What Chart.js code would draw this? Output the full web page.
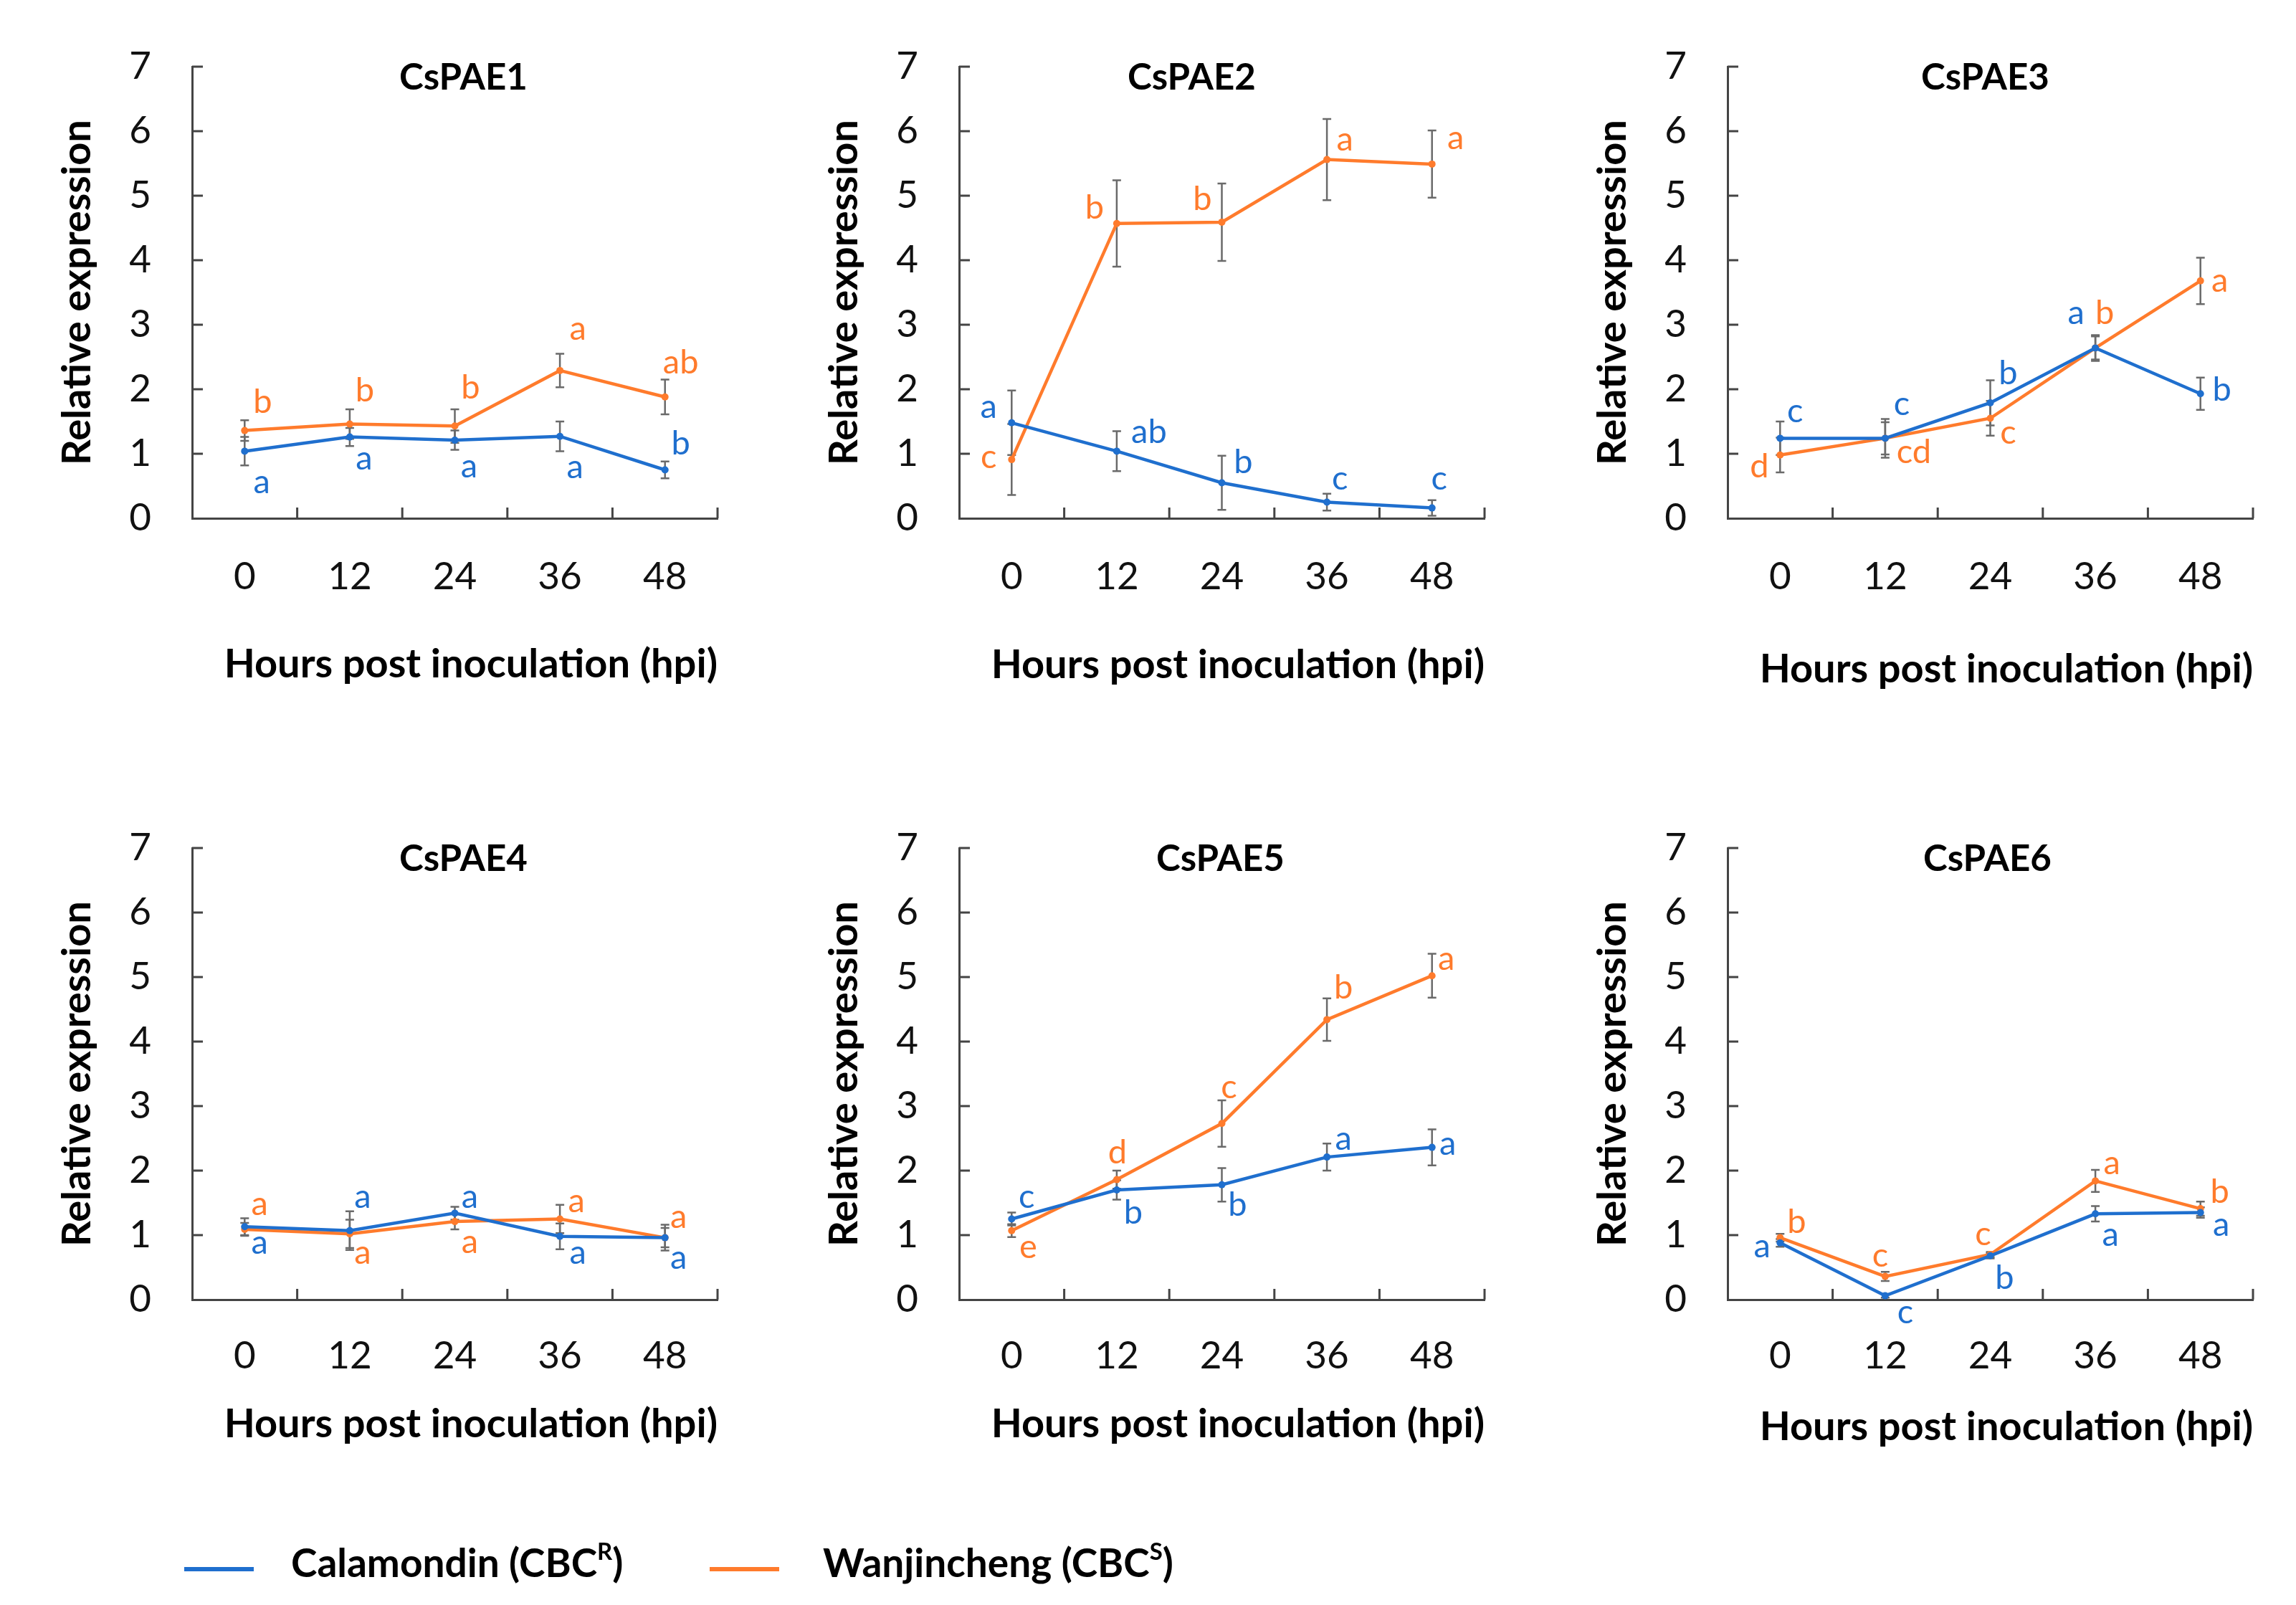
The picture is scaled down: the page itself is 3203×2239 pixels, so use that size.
<!DOCTYPE html>
<html>
<head>
<meta charset="utf-8">
<script src="https://cdn.jsdelivr.net/npm/chart.js@4.4.1/dist/chart.umd.min.js"></script>
<style>
  html, body { margin: 0; padding: 0; background: #fff; }
  #page { position: relative; width: 3203px; height: 2239px; overflow: hidden; }
  .panel { position: absolute; width: 1060px; height: 1060px; }
  .legend { position: absolute; top: 2146px; height: 66px; font-family: Lato, sans-serif; font-weight: bold; font-size: 55px; color: #000; line-height: 66px; white-space: nowrap; }
  .legend sup { font-size: 33px; vertical-align: 24px; line-height: 0; }
  .swatch { position: absolute; top: 2186px; height: 6px; width: 97px; }
</style>
</head>
<body>
<div id="page">
  <div class="panel" id="p0"><canvas id="c0"></canvas></div>
  <div class="panel" id="p1"><canvas id="c1"></canvas></div>
  <div class="panel" id="p2"><canvas id="c2"></canvas></div>
  <div class="panel" id="p3"><canvas id="c3"></canvas></div>
  <div class="panel" id="p4"><canvas id="c4"></canvas></div>
  <div class="panel" id="p5"><canvas id="c5"></canvas></div>

  <div class="swatch" style="left:257px; background:#1f6fce;"></div>
  <div class="legend" style="left:406px;">Calamondin (CBC<sup>R</sup>)</div>
  <div class="swatch" style="left:990px; background:#ff7b2c;"></div>
  <div class="legend" style="left:1148px;">Wanjincheng (CBC<sup>S</sup>)</div>
</div>

<script>
// ---- data ----
const hours = ['0', '12', '24', '36', '48'];
const genes = ['CsPAE1', 'CsPAE2', 'CsPAE3', 'CsPAE4', 'CsPAE5', 'CsPAE6'];
const seriesNames = ['Calamondin (CBCR)', 'Wanjincheng (CBCS)'];
const yTitle = 'Relative expression';
const xTitle = 'Hours post inoculation (hpi)';

const calamondinMean = [
    [1.04, 1.26, 1.21, 1.27, 0.75],
    [1.48, 1.04, 0.55, 0.25, 0.16],
    [1.24, 1.24, 1.79, 2.64, 1.93],
    [1.13, 1.07, 1.34, 0.98, 0.96],
    [1.25, 1.70, 1.78, 2.21, 2.36],
    [0.88, 0.06, 0.68, 1.33, 1.35]
];
const calamondinErr = [
    [0.22, 0.14, 0.15, 0.23, 0.13],
    [0.50, 0.31, 0.42, 0.13, 0.12],
    [0.26, 0.30, 0.35, 0.20, 0.25],
    [0.13, 0.30, 0.10, 0.20, 0.20],
    [0.10, 0.15, 0.26, 0.21, 0.28],
    [0.06, 0.03, 0.04, 0.12, 0.08]
];
const wanjinchengMean = [
    [1.36, 1.46, 1.43, 2.29, 1.88],
    [0.91, 4.57, 4.59, 5.56, 5.49],
    [0.98, 1.24, 1.55, 2.64, 3.68],
    [1.09, 1.02, 1.21, 1.25, 0.96],
    [1.07, 1.86, 2.73, 4.34, 5.02],
    [0.96, 0.36, 0.70, 1.84, 1.41]
];
const wanjinchengErr = [
    [0.16, 0.23, 0.26, 0.26, 0.27],
    [0.55, 0.67, 0.60, 0.63, 0.52],
    [0.27, 0.25, 0.27, 0.18, 0.36],
    [0.10, 0.22, 0.12, 0.22, 0.15],
    [0.10, 0.14, 0.36, 0.33, 0.34],
    [0.06, 0.07, 0.04, 0.17, 0.11]
];
const calamondinLetters = [
    ['a', 'a', 'a', 'a', 'b'],
    ['a', 'ab', 'b', 'c', 'c'],
    ['c', 'c', 'b', 'a', 'b'],
    ['a', 'a', 'a', 'a', 'a'],
    ['c', 'b', 'b', 'a', 'a'],
    ['a', 'c', 'b', 'a', 'a']
];
const wanjinchengLetters = [
    ['b', 'b', 'b', 'a', 'ab'],
    ['c', 'b', 'b', 'a', 'a'],
    ['d', 'cd', 'c', 'b', 'a'],
    ['a', 'a', 'a', 'a', 'a'],
    ['e', 'd', 'c', 'b', 'a'],
    ['b', 'c', 'c', 'a', 'b']
];

// ---- layout (pixels) ----
const panelLeft = [0, 1070, 2142, 0, 1070, 2142];
const panelTop = [0, 0, 0, 1090, 1090, 1090];
const xTitleGap = [204, 205, 211, 174, 174, 178]; // axis line -> centre of x title
const xTickPad = [42, 42, 42, 39, 39, 39];
const titleShift = [12, -42, -7, 12, -2, -4];      // panel title offset from plot centre
// letter offsets from the point, [dx, dy]
const calamondinLetterPos = [
    [[24, 43], [20, 30], [20, 37], [21, 43], [22, -37]],
    [[-32, -22], [45, -27], [30, -29], [18, -33], [10, -41]],
    [[21, -38], [23, -48], [25, -41], [-27, -49], [30, -5]],
    [[21, 23], [18, -47], [21, -23], [25, 23], [19, 28]],
    [[21, -31], [23, 32], [22, 28], [23, -25], [22, -5]],
    [[-25, 5], [28, 23], [20, 31], [21, 30], [29, 17]]
];
const wanjinchengLetterPos = [
    [[25, -40], [21, -47], [22, -53], [25, -58], [22, -48]],
    [[-32, -3], [-31, -22], [-27, -32], [25, -28], [33, -36]],
    [[-29, 16], [40, 19], [25, 20], [13, -49], [27, 0]],
    [[21, -35], [18, 27], [21, 29], [23, -25], [19, -29]],
    [[23, 23], [1, -38], [10, -50], [23, -45], [20, -23]],
    [[23, -22], [-7, -29], [-10, -28], [23, -25], [27, -23]]
];

const BLUE = '#1f6fce';
const ORANGE = '#ff7b2c';
const AXIS = '#444444';
const FONT = 'Lato, "Open Sans", sans-serif';
const TITLE_SIZE = 56;

Chart.defaults.font.family = FONT;
Chart.defaults.color = '#111';

// error bars under the lines
const errorBars = {
    id: 'errorBars',
    beforeDatasetsDraw(chart) {
        const ctx = chart.ctx;
        const y = chart.scales.y;
        ctx.save();
        ctx.strokeStyle = '#6a6a6a';
        ctx.lineWidth = 2.5;
        chart.data.datasets.forEach((ds, di) => {
            const meta = chart.getDatasetMeta(di);
            meta.data.forEach((pt, i) => {
                const top = y.getPixelForValue(ds.data[i] + ds.errors[i]);
                const bot = y.getPixelForValue(Math.max(0, ds.data[i] - ds.errors[i]));
                ctx.beginPath();
                ctx.moveTo(pt.x, top); ctx.lineTo(pt.x, bot);
                ctx.moveTo(pt.x - 6, top); ctx.lineTo(pt.x + 6, top);
                ctx.moveTo(pt.x - 6, bot); ctx.lineTo(pt.x + 6, bot);
                ctx.stroke();
            });
        });
        ctx.restore();
    }
};

// significance letters, panel title and inward tick marks
const annotations = {
    id: 'annotations',
    afterDraw(chart, args, opts) {
        const ctx = chart.ctx;
        const area = chart.chartArea;
        const x = chart.scales.x;
        const y = chart.scales.y;
        ctx.save();

        // tick marks pointing into the plot
        ctx.strokeStyle = AXIS;
        ctx.lineWidth = 3;
        ctx.beginPath();
        y.ticks.forEach(t => {
            if (t.value === 0) return;
            const py = y.getPixelForValue(t.value);
            ctx.moveTo(area.left, py); ctx.lineTo(area.left + 15, py);
        });
        const step = x.getPixelForValue(1) - x.getPixelForValue(0);
        for (let i = 1; i <= hours.length; i++) {
            const px = x.getPixelForValue(i - 1) + step / 2;
            ctx.moveTo(px, area.bottom); ctx.lineTo(px, area.bottom - 15);
        }
        ctx.stroke();

        // letters
        ctx.font = '47px ' + FONT;
        ctx.textAlign = 'center';
        ctx.textBaseline = 'middle';
        chart.data.datasets.forEach((ds, di) => {
            const meta = chart.getDatasetMeta(di);
            ctx.fillStyle = ds.borderColor;
            meta.data.forEach((pt, i) => {
                const off = ds.letterPos[i];
                ctx.fillText(ds.letters[i], pt.x + off[0], pt.y + off[1]);
            });
        });

        // panel title
        ctx.fillStyle = '#000';
        ctx.font = 'bold 51px ' + FONT;
        ctx.fillText(opts.text, (area.left + area.right) / 2 + opts.shift, area.top + 16);
        ctx.restore();
    }
};

genes.forEach((gene, g) => {
    const box = document.getElementById('p' + g);
    box.style.left = panelLeft[g] + 'px';
    box.style.top = panelTop[g] + 'px';

    const xHeight = xTitleGap[g] + TITLE_SIZE * 0.6;

    new Chart(document.getElementById('c' + g), {
        type: 'line',
        data: {
            labels: hours,
            datasets: [
                {
                    label: seriesNames[0],
                    data: calamondinMean[g],
                    errors: calamondinErr[g],
                    letters: calamondinLetters[g],
                    letterPos: calamondinLetterPos[g],
                    borderColor: BLUE,
                    backgroundColor: BLUE,
                    borderWidth: 4.5,
                    pointRadius: 5,
                    pointBorderWidth: 0,
                    tension: 0,
                    clip: false
                },
                {
                    label: seriesNames[1],
                    data: wanjinchengMean[g],
                    errors: wanjinchengErr[g],
                    letters: wanjinchengLetters[g],
                    letterPos: wanjinchengLetterPos[g],
                    borderColor: ORANGE,
                    backgroundColor: ORANGE,
                    borderWidth: 4.5,
                    pointRadius: 5,
                    pointBorderWidth: 0,
                    tension: 0,
                    clip: false
                }
            ]
        },
        options: {
            responsive: true,
            maintainAspectRatio: false,
            animation: false,
            layout: {
                padding: { left: 74, top: 93, right: 59, bottom: 337 - xHeight }
            },
            plugins: {
                legend: { display: false },
                tooltip: { enabled: false },
                annotations: { text: gene, shift: titleShift[g] }
            },
            scales: {
                x: {
                    type: 'category',
                    offset: true,
                    grid: { display: false },
                    border: { color: AXIS, width: 3 },
                    ticks: { font: { size: 53 }, padding: xTickPad[g], color: '#111' },
                    title: {
                        display: true,
                        text: xTitle,
                        align: 'end',
                        color: '#000',
                        padding: 0,
                        font: { size: TITLE_SIZE, weight: 'bold' }
                    },
                    afterFit(s) { s.height = xHeight; }
                },
                y: {
                    min: 0,
                    max: 7,
                    grid: { display: false },
                    border: { color: AXIS, width: 3 },
                    ticks: { stepSize: 1, font: { size: 53 }, padding: 49, color: '#111' },
                    title: {
                        display: true,
                        text: yTitle,
                        color: '#000',
                        padding: 0,
                        font: { size: TITLE_SIZE, weight: 'bold' }
                    },
                    afterFit(s) { s.width = 194; }
                }
            }
        },
        plugins: [errorBars, annotations]
    });
});
</script>
</body>
</html>
